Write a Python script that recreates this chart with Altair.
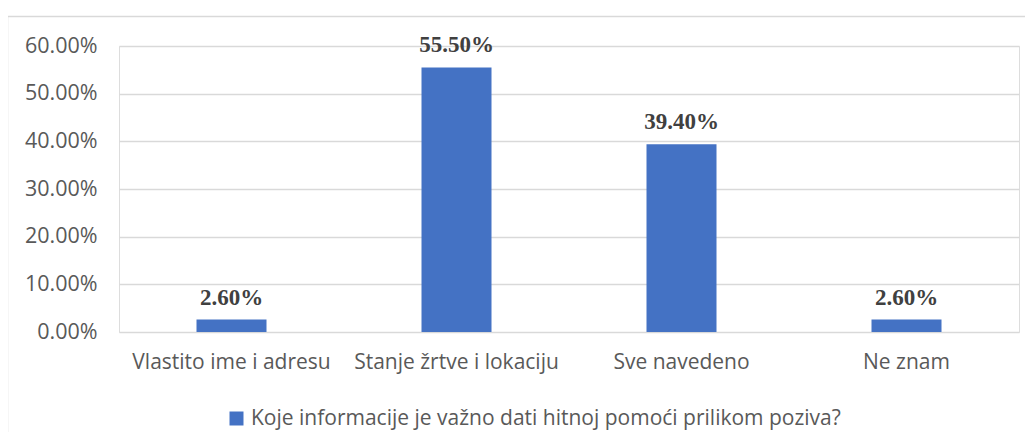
import altair as alt
import pandas as pd

categories = ["Vlastito ime i adresu", "Stanje žrtve i lokaciju", "Sve navedeno", "Ne znam"]
values = [0.026, 0.555, 0.394, 0.026]
labels = ["2.60%", "55.50%", "39.40%", "2.60%"]
series = "Koje informacije je važno dati hitnoj pomoći prilikom poziva?"
y_ticks = [0.0, 0.1, 0.2, 0.3, 0.4, 0.5, 0.6]

df = pd.DataFrame({"cat": categories, "val": values, "lab": labels, "series": [series] * 4})

base = alt.Chart(df)

x = alt.X("cat:N", sort=categories, title=None,
          axis=alt.Axis(labelAngle=0, labelFont="Open Sans", labelFontSize=21,
                        labelColor="#595959", labelPadding=19, ticks=False,
                        labelLimit=400, domain=False, grid=False))
y = alt.Y("val:Q", title=None,
          scale=alt.Scale(domain=[0, 0.6], nice=False),
          axis=alt.Axis(values=y_ticks, format=".2%", labelFont="Open Sans",
                        labelFontSize=21.5, labelColor="#595959", labelPadding=22,
                        ticks=False, domain=False, gridColor="#d9d9d9", gridWidth=1.4))

bars = base.mark_bar(color="#4472C4", size=70).encode(
    x=x, y=y,
    color=alt.Color("series:N", scale=alt.Scale(range=["#4472C4"]),
                    legend=alt.Legend(title=None, orient="none", legendX=107, legendY=362,
                                      symbolType="square", symbolSize=196,
                                      symbolStrokeWidth=0, labelFont="Open Sans",
                                      labelFontSize=21, labelColor="#595959",
                                      labelLimit=800)),
)

text = base.mark_text(font="Liberation Serif", fontSize=23, fontWeight="bold",
                      color="#404040", baseline="alphabetic", dy=-15).encode(
    x=alt.X("cat:N", sort=categories), y="val:Q", text="lab:N")

border_left = alt.Chart(df.head(1)).mark_rule(color="#d9d9d9", strokeWidth=1.5).encode(
    x=alt.value(-111.5), y=alt.value(-29.5), y2=alt.value(420))
border_top = alt.Chart(df.head(1)).mark_rule(color="#d9d9d9", strokeWidth=1.5).encode(
    x=alt.value(-112), x2=alt.value(920), y=alt.value(-29.5))

chart = alt.layer(bars, text, border_left, border_top).properties(
    width=900, height=286,
    autosize=alt.AutoSizeParams(type="none"),
    padding={"left": 111, "top": 38, "right": 6, "bottom": 100},
).configure_view(stroke=None).configure(background="white")

chart.save("out.html", embed_options={"renderer": "svg", "actions": False})
